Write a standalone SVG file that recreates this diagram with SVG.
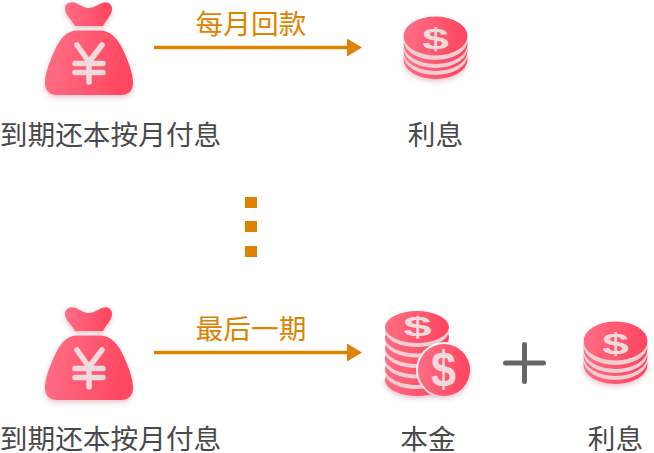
<svg xmlns="http://www.w3.org/2000/svg" width="654" height="453" viewBox="0 0 654 453">
<style>
text{font-family:"Noto Sans CJK SC","Noto Sans",sans-serif;font-size:27.700px}
.lab{fill:#4a4a4a}
.ora{fill:#dc8400}
.line{stroke:#dc8400;stroke-width:3.4;fill:none}
.pale{fill:#ecd0d3}
.red{fill:url(#g)}
text.d{font-family:"Liberation Sans",sans-serif;font-weight:700;fill:#f1dadb;text-anchor:middle}
text.d1{font-size:31px}
text.d2{font-size:29px}
text.d3{font-size:50px}
</style>
<defs>
<linearGradient id="g" x1="0" y1="0" x2="1" y2="0.12"><stop offset="0" stop-color="#ff7086"/><stop offset="1" stop-color="#ff4661"/></linearGradient>
<filter id="s" x="-20%" y="-20%" width="140%" height="150%"><feDropShadow dx="0" dy="2.5" stdDeviation="2.5" flood-color="#b04050" flood-opacity=".3"/></filter>
<marker id="a" markerUnits="userSpaceOnUse" markerWidth="16" markerHeight="18" refX="1" refY="9" orient="auto"><path d="M0 0L15 9L0 18Z" fill="#dc8400"/></marker>
<symbol id="bag" overflow="visible">
<g filter="url(#s)">
<path class="red" d="M65 9C65 2 72 1 77 3.500C82 6 85 8 89 8C93 8 97 5 102 3C107 1 112 3 112 9C112 15 106 20 103 26L75 26C72 20 65 15 65 9Z"/>
<path class="red" d="M77 30.500H100C110 30.500 118 38 124 52C129 63 133 74 133 83C133 91 128 95 121 95H57C50 95 45 91 45 83C45 74 49 63 54 52C60 38 67 30.500 77 30.500Z"/>
</g>
<path d="M77 45L89 62L102 45M89 62V82M75 63.500H103M75 72.500H103" fill="none" stroke="#f1dadb" stroke-width="5.500" stroke-linecap="round" stroke-linejoin="round"/>
</symbol>
<symbol id="coins" overflow="visible">
<ellipse class="red" cx="435.500" cy="59.500" rx="32" ry="19.500" filter="url(#s)"/>
<ellipse class="pale" cx="435.500" cy="55.500" rx="32" ry="19.500"/>
<ellipse class="red" cx="435.500" cy="51.500" rx="32" ry="19.500"/>
<ellipse class="pale" cx="435.500" cy="48.500" rx="32" ry="19.500"/>
<ellipse class="red" cx="435.500" cy="44.500" rx="32" ry="19.500"/>
<ellipse class="pale" cx="435.500" cy="40.500" rx="32" ry="19.500"/>
<ellipse class="red" cx="435.500" cy="36" rx="32" ry="19.500"/>
<text class="d d1" transform="translate(435.500 49) scale(1.55 .97)">$</text>
</symbol>
</defs>
<g id="connectors">
<path class="line" d="M154 47.500H348" marker-end="url(#a)"/>
<path class="line" d="M154 352.500H348" marker-end="url(#a)"/>
</g>
<g id="node-bag-top"><use href="#bag"/><text class="lab" x="110.500" y="144.500" text-anchor="middle">到期还本按月付息</text></g>
<g id="label-monthly"><text class="ora" x="251" y="34" text-anchor="middle">每月回款</text></g>
<g id="node-interest-top"><use href="#coins"/><text class="lab" x="435.500" y="144.500" text-anchor="middle">利息</text></g>
<g id="ellipsis" fill="#dc8400"><rect x="245" y="197" width="12" height="11"/><rect x="245" y="221" width="12" height="11"/><rect x="245" y="246" width="12" height="11"/></g>
<g id="node-bag-bottom"><use href="#bag" y="305"/><text class="lab" x="110.500" y="449" text-anchor="middle">到期还本按月付息</text></g>
<g id="label-last"><text class="ora" x="251" y="339" text-anchor="middle">最后一期</text></g>
<g id="node-principal">
<ellipse class="red" cx="417" cy="380" rx="32" ry="16" filter="url(#s)"/>
<ellipse class="pale" cx="417" cy="373" rx="32" ry="16"/>
<ellipse class="red" cx="417" cy="369" rx="32" ry="16"/>
<ellipse class="pale" cx="417" cy="362.500" rx="32" ry="16"/>
<ellipse class="red" cx="417" cy="358.500" rx="32" ry="16"/>
<ellipse class="pale" cx="417" cy="352" rx="32" ry="16"/>
<ellipse class="red" cx="417" cy="348" rx="32" ry="16"/>
<ellipse class="pale" cx="417" cy="341.500" rx="32" ry="16"/>
<ellipse class="red" cx="417" cy="337.500" rx="32" ry="16"/>
<ellipse class="pale" cx="417" cy="331" rx="32" ry="16"/>
<ellipse class="red" cx="417" cy="327" rx="32" ry="16"/>
<text class="d d2" transform="translate(417.500 336) scale(1.75 .97)">$</text>
<circle cx="444" cy="370" r="28" fill="#fff"/>
<circle class="red" cx="444" cy="370" r="26" filter="url(#s)"/>
<text class="d d3" transform="translate(443.500 386) scale(.9 1)">$</text>
<text class="lab" x="428" y="449" text-anchor="middle">本金</text>
</g>
<g id="plus"><path d="M505.500 363H543.500M524.500 344.500V381.500" stroke="#666" stroke-width="5" stroke-linecap="round"/></g>
<g id="node-interest-bottom"><use href="#coins" x="180" y="305"/><text class="lab" x="615.500" y="449" text-anchor="middle">利息</text></g>
</svg>
